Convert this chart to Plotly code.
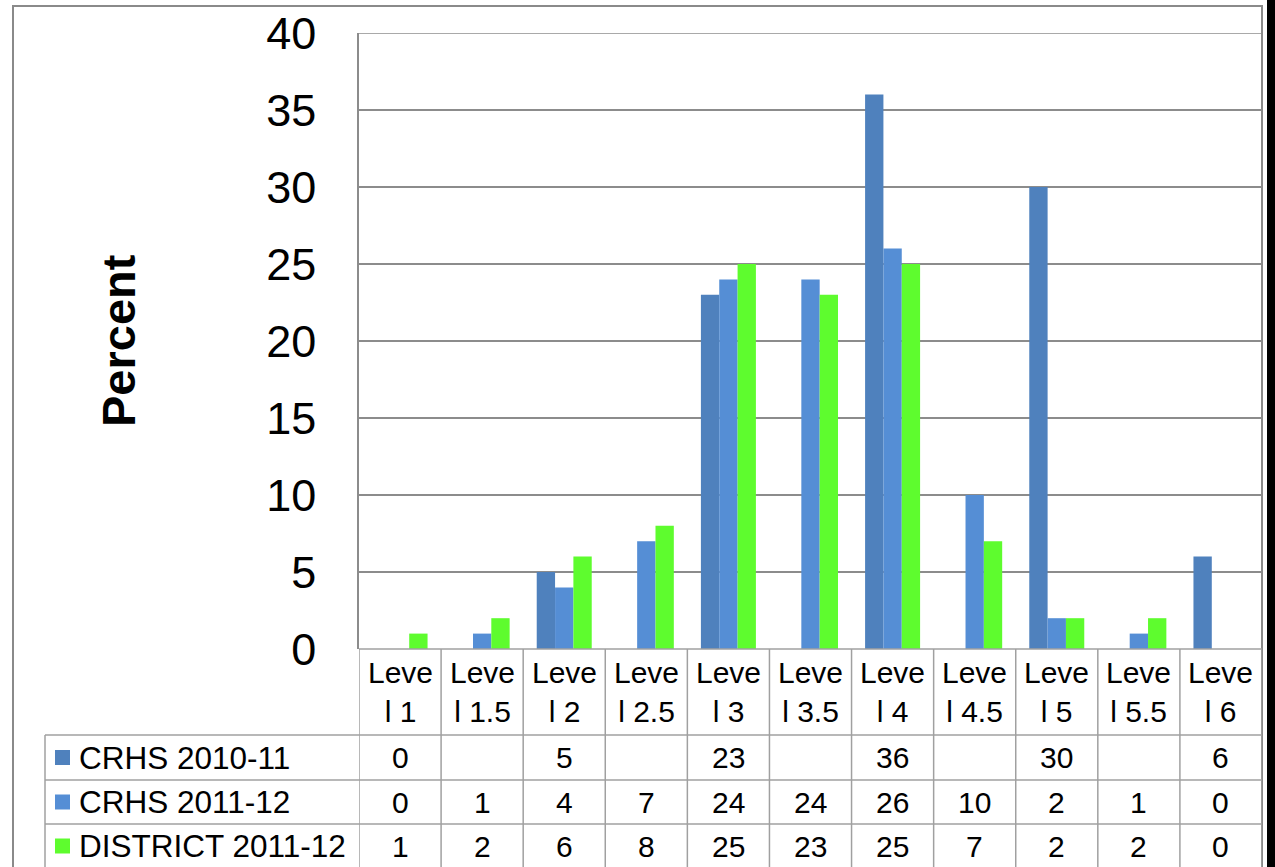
import plotly.graph_objects as go

# ---- data ----
categories = ["Level 1", "Level 1.5", "Level 2", "Level 2.5", "Level 3", "Level 3.5",
              "Level 4", "Level 4.5", "Level 5", "Level 5.5", "Level 6"]
series_names = ["CRHS 2010-11", "CRHS 2011-12", "DISTRICT 2011-12"]
crhs_2010_11 = [0, None, 5, None, 23, None, 36, None, 30, None, 6]
crhs_2011_12 = [0, 1, 4, 7, 24, 24, 26, 10, 2, 1, 0]
district_2011_12 = [1, 2, 6, 8, 25, 23, 25, 7, 2, 2, 0]
y_ticks = [0, 5, 10, 15, 20, 25, 30, 35, 40]

series_values = [crhs_2010_11, crhs_2011_12, district_2011_12]
colors = ["#4F81BD", "#558ED5", "#5EFC2E"]

W, H = 1275, 867
PL, PR, PT, PB = 359, 1262, 33, 649   # plot area in pixels
FONT = "Liberation Sans, Arial, sans-serif"
GRID = "#8C8C8C"
TABLE = "#A0A0A0"


def px(p):
    return (p - PL) / (PR - PL)


def py(p):
    return (PB - p) / (PB - PT)


fig = go.Figure()
for name, vals, col in zip(series_names, series_values, colors):
    fig.add_trace(go.Bar(
        x=categories, y=vals, name=name, marker_color=col,
        marker_line_width=0, showlegend=False,
    ))

shapes = []
annotations = []


def hline(x0, x1, y, color=TABLE, width=1.5):
    shapes.append(dict(type="line", xref="paper", yref="paper",
                       x0=px(x0), x1=px(x1), y0=py(y), y1=py(y),
                       line=dict(color=color, width=width)))


# outer chart border and dark edge strip
shapes.append(dict(type="rect", xref="paper", yref="paper",
                   x0=px(13), x1=px(1262), y0=py(6), y1=py(872),
                   line=dict(color="#8A8A8A", width=2), fillcolor="rgba(0,0,0,0)", layer="below"))
shapes.append(dict(type="rect", xref="paper", yref="paper",
                   x0=px(1267), x1=px(1276), y0=py(-2), y1=py(870),
                   line=dict(width=0), fillcolor="#000000"))

# top gridline of the value axis
shapes.append(dict(type="line", xref="paper", yref="y",
                   x0=0, x1=1, y0=y_ticks[-1], y1=y_ticks[-1],
                   line=dict(color=GRID, width=1.5)))

# data table: horizontal rules
row_edges = [735, 780, 824, 868]
hline(PL, PR, PB)
for r in row_edges:
    hline(45, PR, r)
# vertical rules at category boundaries
for k in range(len(categories) + 1):
    shapes.append(dict(type="line", xref="x", yref="paper",
                       x0=k - 0.5, x1=k - 0.5, y0=0, y1=py(870),
                       line=dict(color=TABLE, width=1.5)))
shapes.append(dict(type="line", xref="paper", yref="paper",
                   x0=px(45), x1=px(45), y0=py(735), y1=py(870),
                   line=dict(color=TABLE, width=1.5)))

cell_font = dict(family=FONT, size=30, color="#000")

# category header cells
for i, c in enumerate(categories):
    annotations.append(dict(xref="x", yref="paper", x=i, y=py(692),
                            xanchor="center", yanchor="middle",
                            text=c[:4] + "<br>" + c[4:], showarrow=False,
                            font=cell_font, align="center"))

# series rows: legend key, name and values
for j, (name, vals, col) in enumerate(zip(series_names, series_values, colors)):
    top, bot = row_edges[j], row_edges[j + 1]
    cy = (top + bot) / 2
    shapes.append(dict(type="rect", xref="paper", yref="paper",
                       x0=px(55), x1=px(70), y0=py(cy - 7.5), y1=py(cy + 7.5),
                       line=dict(width=0), fillcolor=col))
    annotations.append(dict(xref="paper", yref="paper", x=px(77), y=py(cy),
                            xanchor="left", yanchor="middle", text=name,
                            showarrow=False,
                            font=dict(family=FONT, size=31.5, color="#000")))
    for i, v in enumerate(vals):
        if v is None:
            continue
        annotations.append(dict(xref="x", yref="paper", x=i, y=py(cy),
                                xanchor="center", yanchor="middle",
                                text=str(v), showarrow=False, font=cell_font))

# y-axis title
annotations.append(dict(xref="paper", yref="paper", x=px(118), y=py(341),
                        xanchor="center", yanchor="middle",
                        text="<b>Percent</b>", textangle=-90, showarrow=False,
                        font=dict(family=FONT, size=47, color="#000")))

fig.update_layout(
    width=W, height=H,
    margin=dict(l=PL, r=W - PR, t=PT, b=H - PB, pad=0, autoexpand=False),
    paper_bgcolor="white", plot_bgcolor="white",
    barmode="group", bargap=0.33, bargroupgap=0,
    shapes=shapes, annotations=annotations,
    xaxis=dict(type="category", range=[-0.5, len(categories) - 0.5],
               showticklabels=False, showgrid=False, zeroline=False,
               showline=False, ticks="", automargin=False),
    yaxis=dict(range=[0, 40], tickvals=y_ticks, showgrid=True,
               gridcolor=GRID, gridwidth=1.5, zeroline=False,
               showline=True, linecolor=GRID, linewidth=1.5,
               ticks="", ticklabelstandoff=32, automargin=False,
               tickfont=dict(family=FONT, size=45, color="#000")),
)

fig.write_html("out.html")
